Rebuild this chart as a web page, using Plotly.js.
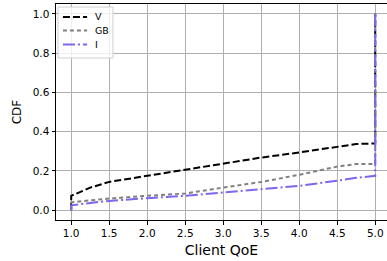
<!DOCTYPE html>
<html>
<head>
<meta charset="utf-8">
<script src="https://cdn.plot.ly/plotly-3.0.1.min.js"></script>
<style>html,body{margin:0;padding:0;background:#fff;}#chart{width:387px;height:261px;}</style>
</head>
<body>
<div id="chart"></div>
<script>
const qoe = [1.0, 1.0, 1.25, 1.5, 2.0, 2.5, 3.0, 3.5, 4.0, 4.5, 4.75, 5.0, 5.0];
const cdfV  = [0, 0.073, 0.115, 0.144, 0.175, 0.205, 0.238, 0.268, 0.294, 0.323, 0.337, 0.34, 1.0];
const cdfGB = [0, 0.04, 0.05, 0.059, 0.073, 0.085, 0.115, 0.144, 0.18, 0.222, 0.235, 0.235, 1.0];
const cdfI  = [0, 0.025, 0.037, 0.047, 0.061, 0.073, 0.09, 0.107, 0.124, 0.15, 0.165, 0.175, 1.0];
const seriesNames = ['V', 'GB', 'I'];
const xTicks = [1.0, 1.5, 2.0, 2.5, 3.0, 3.5, 4.0, 4.5, 5.0];
const yTicks = [0.0, 0.2, 0.4, 0.6, 0.8, 1.0];

const font = 'DejaVu Sans, sans-serif';
const styles = [
  {color: '#000000', width: 2, dash: '7px,3px'},
  {color: '#808080', width: 2, dash: '4px,3px'},
  {color: '#7B68EE', width: 2, dash: '12px,3px,2px,3px'}
];
const series = [cdfV, cdfGB, cdfI];
const traces = series.map((ys, i) => ({x: qoe, y: ys, name: seriesNames[i], mode: 'lines', line: styles[i], showlegend: false}));

// custom compact legend (matplotlib-like)
const shapes = [{
  type: 'rect', xref: 'paper', yref: 'paper', x0: 0.006, x1: 0.172, y0: 0.75, y1: 0.986,
  fillcolor: 'rgba(255,255,255,0.8)', line: {color: '#d0d0d0', width: 1}, layer: 'above'
}];
const annotations = [];
const entryY = [0.94, 0.877, 0.812];
seriesNames.forEach((n, i) => {
  shapes.push({type: 'line', xref: 'paper', yref: 'paper', x0: 0.021, x1: 0.094, y0: entryY[i], y1: entryY[i],
    line: styles[i], layer: 'above'});
  annotations.push({xref: 'paper', yref: 'paper', x: 0.113, y: entryY[i], xanchor: 'left', yanchor: 'middle',
    text: n, showarrow: false, font: {size: 9.5, family: font, color: '#000'}});
});

const layout = {
  width: 387, height: 261,
  margin: {l: 56, r: 0, t: 4, b: 41},
  paper_bgcolor: '#fff', plot_bgcolor: '#fff',
  font: {family: font, size: 10, color: '#000'},
  xaxis: {
    range: [0.8, 5.155], tickvals: xTicks, ticktext: xTicks.map(v => v.toFixed(1)),
    showgrid: true, gridcolor: '#b0b0b0', gridwidth: 1, zeroline: false,
    showline: true, linecolor: '#000', linewidth: 1, mirror: true,
    ticks: 'outside', ticklen: 3.5, tickcolor: '#000', tickfont: {size: 10.5},
    title: {text: 'Client QoE', font: {size: 14}, standoff: 7}
  },
  yaxis: {
    range: [-0.05, 1.05], tickvals: yTicks, ticktext: yTicks.map(v => v.toFixed(1)),
    showgrid: true, gridcolor: '#b0b0b0', gridwidth: 1, zeroline: false,
    showline: true, linecolor: '#000', linewidth: 1,
    ticks: 'outside', ticklen: 3.5, tickcolor: '#000', tickfont: {size: 10.5},
    title: {text: 'CDF', font: {size: 12}, standoff: 8}
  },
  showlegend: false,
  shapes: shapes,
  annotations: annotations
};
Plotly.newPlot('chart', traces, layout, {staticPlot: true, displayModeBar: false});
</script>
</body>
</html>
